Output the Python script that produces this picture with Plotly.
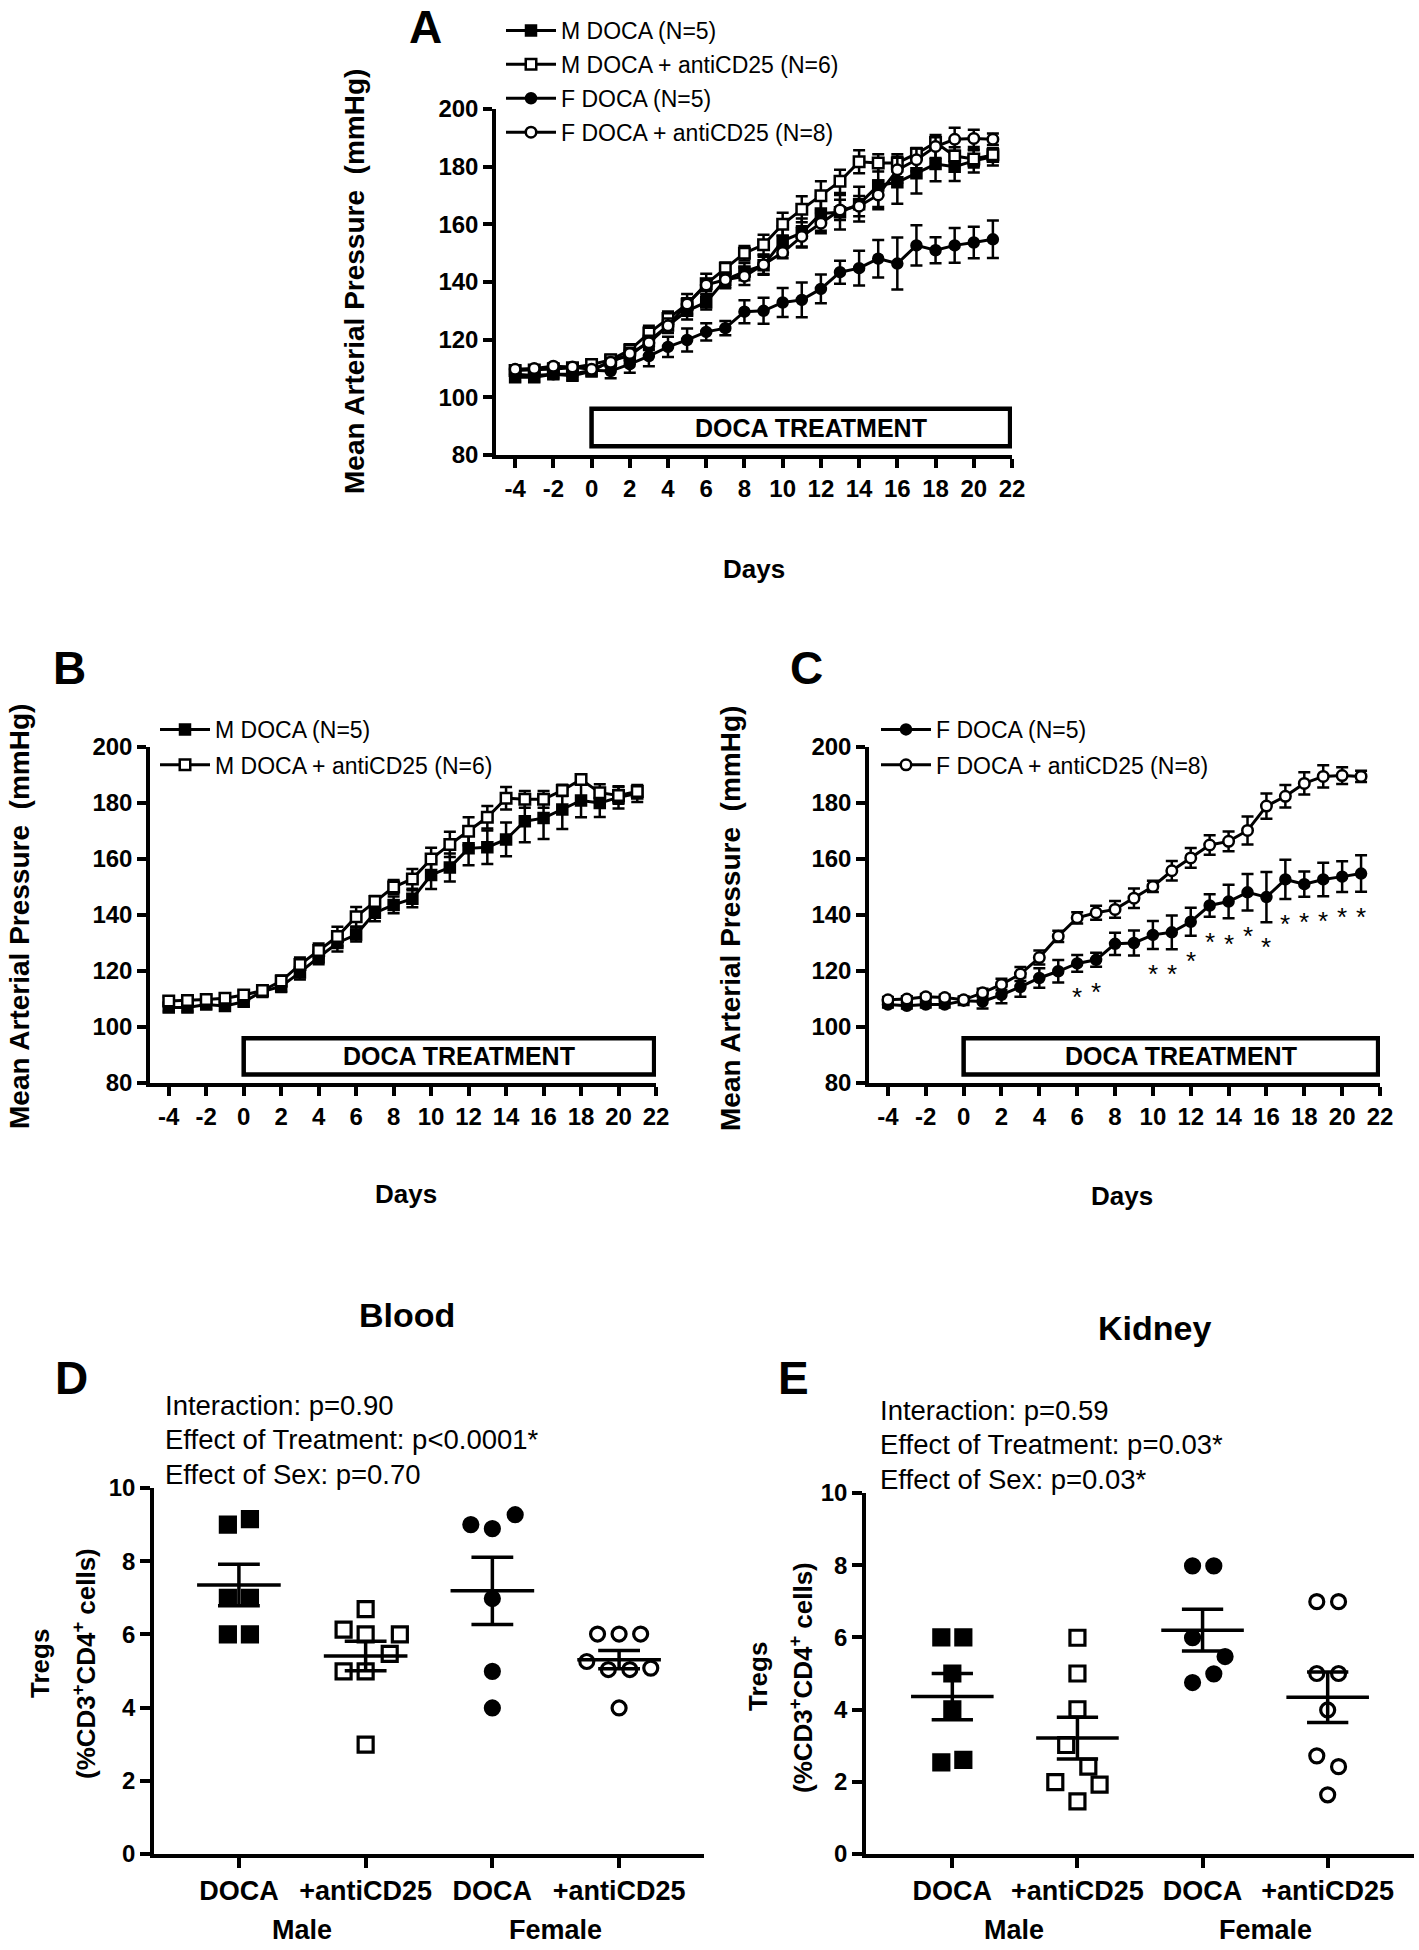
import plotly.graph_objects as go

W, H = 1419, 1950
FONT = "Liberation Sans, Arial, sans-serif"

# ---------------- data: blood pressure time courses ----------------
days = list(range(-4, 22))
x_ticks = list(range(-4, 23, 2))
x_ticktext = [str(v) for v in x_ticks]
y_ticks_map = list(range(80, 201, 20))

m_doca = [107, 107, 108, 107.5, 109, 112.7, 114.5, 119.5, 124.9, 130, 133, 140.8, 143.6,
          145.8, 154.3, 157, 163.8, 164.2, 167, 173.5, 174.6, 177.7, 180.9, 180, 182, 183.4]
m_doca_err = [1.5, 1.5, 1.5, 1.5, 1.5, 2, 2, 2.5, 2.5, 3, 2.5, 3, 3, 3, 5, 5, 6, 6, 6, 7.5,
              7.5, 7, 6, 5, 4, 3]
m_anti = [109.3, 109.5, 109.8, 110.3, 111.4, 113, 116.4, 122.3, 127.3, 132.3, 139.4, 144.8,
          150, 152.9, 160, 165.2, 169.9, 174.9, 181.7, 181.3, 181.3, 184.5, 188.4, 183.7,
          182.7, 184.1]
m_anti_err = [1.5, 1.5, 1.5, 1.5, 1.5, 1.5, 2, 2.5, 2.5, 3.5, 3.5, 2, 2.5, 3.5, 4, 4.5, 5, 4,
              4, 3, 3, 2, 1.5, 3, 3, 2]
f_doca = [108, 107.6, 108, 108, 109.4, 109.1, 111.5, 114.3, 117.5, 119.9, 122.7, 124, 129.7,
          130, 132.9, 133.8, 137.6, 143.4, 144.8, 148.1, 146.4, 152.7, 151, 152.7, 153.7, 154.8]
f_doca_err = [1, 1, 1, 1, 1.5, 2.5, 3, 3.5, 3.5, 4, 3, 2.5, 4, 4.5, 5, 6, 5, 4, 6, 6.5, 9, 7,
              4.5, 6, 5.5, 6.5]
f_anti = [109.7, 110, 110.8, 110.5, 109.7, 112.2, 115.2, 118.9, 124.8, 132.4, 139, 140.8, 142,
          146, 150.2, 155.8, 160.4, 165, 166.3, 170.2, 178.9, 182.4, 187, 189.5, 189.8, 189.5]
f_anti_err = [1, 1, 1, 1, 1, 1.5, 2, 2.5, 2.5, 2, 2, 2.5, 3, 3.5, 2, 3.5, 3.5, 3.5, 3.5, 5,
              4.5, 4, 4, 4, 3, 2]
star_days = [6, 7, 10, 11, 12, 13, 14, 15, 16, 17, 18, 19, 20, 21]

series_names = ["M DOCA (N=5)", "M DOCA + antiCD25 (N=6)", "F DOCA (N=5)",
                "F DOCA + antiCD25 (N=8)"]

# ---------------- data: Tregs scatter ----------------
categories = ["DOCA", "+antiCD25", "DOCA", "+antiCD25"]
sex_labels = ["Male", "Female"]

blood_m_doca = [9.0, 9.15, 7.0, 7.0, 6.0, 6.0]
blood_m_anti = [6.69, 6.13, 6.0, 6.0, 5.47, 4.99, 4.99, 2.99]
blood_f_doca = [9.0, 8.89, 9.27, 6.98, 4.99, 3.99]
blood_f_anti = [6.01, 6.01, 6.01, 5.26, 5.04, 5.04, 5.08, 3.99]
blood_mean = [7.35, 5.41, 7.19, 5.31]
blood_sem = [0.57, 0.40, 0.92, 0.25]

kid_m_doca = [6.0, 6.0, 5.0, 4.01, 2.54, 2.61]
kid_m_anti = [5.99, 5.0, 4.01, 3.02, 2.42, 1.99, 1.92, 1.46]
kid_f_doca = [7.98, 7.98, 5.99, 5.47, 4.99, 4.75]
kid_f_anti = [6.99, 6.99, 5.0, 5.0, 3.99, 2.72, 2.42, 1.64]
kid_mean = [4.36, 3.21, 6.2, 4.34]
kid_sem = [0.64, 0.58, 0.58, 0.70]

blood_stats = ["Interaction: p=0.90", "Effect of Treatment: p<0.0001*", "Effect of Sex: p=0.70"]
kid_stats = ["Interaction: p=0.59", "Effect of Treatment: p=0.03*", "Effect of Sex: p=0.03*"]

# horizontal scatter placement of the dots (category units)
jit_blood_m_doca = [-0.087, 0.087, -0.087, 0.087, -0.087, 0.087]
jit_blood_m_anti = [0, -0.174, 0, 0.27, 0.19, -0.174, 0, 0]
jit_blood_f_doca = [-0.17, 0, 0.18, 0, 0, 0]
jit_blood_f_anti = [-0.17, 0, 0.17, -0.255, -0.085, 0.085, 0.25, 0]
jit_kid_m_doca = [-0.088, 0.088, 0, 0, -0.088, 0.088]
jit_kid_m_anti = [0, 0, 0, -0.09, 0.087, -0.177, 0.177, 0]
jit_kid_f_doca = [-0.08, 0.09, -0.08, 0.18, 0.09, -0.08]
jit_kid_f_anti = [-0.087, 0.087, -0.087, 0.087, 0, -0.087, 0.087, 0]


def px(x, y):
    return x / W, 1 - y / H


def xdom(a, b):
    return [a / W, b / W]


def ydom(top, bottom):
    return [1 - bottom / H, 1 - top / H]


fig = go.Figure()

styles = [
    dict(symbol="square", color="black", line=dict(color="black", width=2)),
    dict(symbol="square", color="white", line=dict(color="black", width=2.5)),
    dict(symbol="circle", color="black", line=dict(color="black", width=2)),
    dict(symbol="circle", color="white", line=dict(color="black", width=2.5)),
]
all_series = [(m_doca, m_doca_err), (m_anti, m_anti_err), (f_doca, f_doca_err), (f_anti, f_anti_err)]

panels = [("x", "y", "legend", [0, 1, 2, 3]),
          ("x2", "y2", "legend2", [0, 1]),
          ("x3", "y3", "legend3", [2, 3])]

for xa, ya, lg, idxs in panels:
    for i in idxs:
        vals, errs = all_series[i]
        st = styles[i]
        fig.add_trace(go.Scatter(
            x=days, y=vals, xaxis=xa, yaxis=ya, mode="lines+markers",
            name=series_names[i], legend=lg, legendgroup=f"{lg}_{i}",
            line=dict(color="black", width=3),
            marker=dict(symbol=st["symbol"], size=10.5, color=st["color"], line=st["line"]),
            error_y=dict(type="data", array=errs, visible=True, color="black",
                         thickness=2.5, width=6),
            cliponaxis=False,
        ))


def dot_trace(vals, jit, g, xa, ya, symbol, fill):
    return go.Scatter(
        x=[g + j for j in jit], y=vals, xaxis=xa, yaxis=ya, mode="markers",
        showlegend=False, cliponaxis=False,
        marker=dict(symbol=symbol, size=15 if symbol == "square" else 14, color=fill,
                    line=dict(color="black", width=3.2)),
    )


def mean_trace(means, sems, xa, ya):
    xs, ys = [], []
    for g, (m, s) in enumerate(zip(means, sems)):
        xs += [g - 0.33, g + 0.33, None, g, g, None,
               g - 0.165, g + 0.165, None, g - 0.165, g + 0.165, None]
        ys += [m, m, None, m - s, m + s, None, m + s, m + s, None, m - s, m - s, None]
    return go.Scatter(x=xs, y=ys, xaxis=xa, yaxis=ya, mode="lines", showlegend=False,
                      line=dict(color="black", width=3.5), cliponaxis=False)


for xa, ya, groups, means, sems in [
    ("x4", "y4",
     [(blood_m_doca, jit_blood_m_doca), (blood_m_anti, jit_blood_m_anti),
      (blood_f_doca, jit_blood_f_doca), (blood_f_anti, jit_blood_f_anti)],
     blood_mean, blood_sem),
    ("x5", "y5",
     [(kid_m_doca, jit_kid_m_doca), (kid_m_anti, jit_kid_m_anti),
      (kid_f_doca, jit_kid_f_doca), (kid_f_anti, jit_kid_f_anti)],
     kid_mean, kid_sem),
]:
    sym = [("square", "black"), ("square", "white"), ("circle", "black"), ("circle", "white")]
    for g, (vals, jit) in enumerate(groups):
        fig.add_trace(dot_trace(vals, jit, g, xa, ya, sym[g][0], sym[g][1]))
    fig.add_trace(mean_trace(means, sems, xa, ya))

tickfont = dict(family=FONT, size=24, color="black", weight="bold")
axis_common = dict(showline=True, linecolor="black", linewidth=3.5, ticks="outside",
                   ticklen=9, tickwidth=3.5, tickcolor="black", showgrid=False,
                   zeroline=False, tickfont=tickfont, fixedrange=True)

line_x = dict(axis_common, range=[-5, 22], tickmode="array", tickvals=x_ticks,
              ticktext=x_ticktext)
line_y = dict(axis_common, range=[80, 200], tickmode="array", tickvals=y_ticks_map)

fig.update_layout(
    width=W, height=H,
    margin=dict(l=0, r=0, t=0, b=0, autoexpand=False),
    paper_bgcolor="white", plot_bgcolor="white",
    font=dict(family=FONT, color="black"),
    xaxis=dict(line_x, domain=xdom(496, 1012), anchor="y"),
    yaxis=dict(line_y, domain=ydom(109, 455), anchor="x"),
    xaxis2=dict(line_x, domain=xdom(150, 656), anchor="y2"),
    yaxis2=dict(line_y, domain=ydom(747, 1083), anchor="x2"),
    xaxis3=dict(line_x, domain=xdom(869, 1380), anchor="y3"),
    yaxis3=dict(line_y, domain=ydom(747, 1083), anchor="x3"),
    xaxis4=dict(axis_common, domain=xdom(154, 704), anchor="y4", range=[-0.67, 3.67],
                tickmode="array", tickvals=[0, 1, 2, 3], ticktext=categories, ticklen=10,
                tickfont=dict(tickfont, size=27)),
    yaxis4=dict(axis_common, domain=ydom(1488, 1854), anchor="x4", range=[0, 10],
                tickmode="array", tickvals=[0, 2, 4, 6, 8, 10], ticklen=10),
    xaxis5=dict(axis_common, domain=xdom(866, 1414), anchor="y5", range=[-0.69, 3.69],
                tickmode="array", tickvals=[0, 1, 2, 3], ticktext=categories, ticklen=10,
                tickfont=dict(tickfont, size=27)),
    yaxis5=dict(axis_common, domain=ydom(1493, 1854), anchor="x5", range=[0, 10],
                tickmode="array", tickvals=[0, 2, 4, 6, 8, 10], ticklen=10),
    showlegend=True,
)

legend_common = dict(xanchor="left", yanchor="top", bgcolor="rgba(0,0,0,0)",
                     font=dict(family=FONT, size=23, color="black"), itemwidth=50,
                     borderwidth=0, itemclick=False, itemdoubleclick=False)
lx, ly = px(501, 9)
fig.update_layout(legend=dict(legend_common, x=lx, y=ly, tracegroupgap=1))
lx, ly = px(155, 708)
fig.update_layout(legend2=dict(legend_common, x=lx, y=ly, tracegroupgap=2.5))
lx, ly = px(876, 708)
fig.update_layout(legend3=dict(legend_common, x=lx, y=ly, tracegroupgap=2.5))

# DOCA treatment boxes
shapes = []
annotations = []
for xa, ya in [("x", "y"), ("x2", "y2"), ("x3", "y3")]:
    shapes.append(dict(type="rect", xref=xa, yref=ya, x0=0, x1=21.9, y0=83, y1=96,
                       line=dict(color="black", width=4.5), fillcolor="white", layer="above"))
    annotations.append(dict(xref=xa, yref=ya, x=11.5, y=89.5, text="<b>DOCA TREATMENT</b>",
                            showarrow=False, font=dict(family=FONT, size=25, color="black")))

# significance stars in panel C (placed just below each F DOCA error bar)
for d in star_days:
    k = days.index(d)
    annotations.append(dict(xref="x3", yref="y3", x=d, y=f_doca[k] - f_doca_err[k] - 9,
                            text="*", showarrow=False,
                            font=dict(family=FONT, size=26, color="black")))


def ann(x, y, text, size, bold=True, angle=0, xanchor="center"):
    ax, ay = px(x, y)
    annotations.append(dict(xref="paper", yref="paper", x=ax, y=ay, text=text,
                            showarrow=False, xanchor=xanchor, yanchor="middle",
                            textangle=angle,
                            font=dict(family=FONT, size=size, color="black",
                                      weight="bold" if bold else "normal")))


# panel letters
ann(425, 27, "A", 46)
ann(69, 668, "B", 46)
ann(806, 668, "C", 46)
ann(71, 1378, "D", 46)
ann(793, 1378, "E", 46)

ytitle = "Mean Arterial Pressure\u00a0 (mmHg)"
ann(355, 282, ytitle, 28, angle=-90)
ann(20, 917, ytitle, 28, angle=-90)
ann(731, 919, ytitle, 28, angle=-90)
ann(754, 569, "Days", 26)
ann(406, 1194, "Days", 26)
ann(1122, 1196, "Days", 26)

ann(407, 1315, "Blood", 34)
ann(1154, 1328, "Kidney", 34)

for i, t in enumerate(blood_stats):
    ann(163, 1405 + 34.5 * i, t, 27.5, bold=False, xanchor="left")
for i, t in enumerate(kid_stats):
    ann(878, 1410 + 34.5 * i, t, 27.5, bold=False, xanchor="left")

cd_title = "(%CD3<sup>+</sup>CD4<sup>+</sup> cells)"
ann(40, 1664, "Tregs", 26, angle=-90)
ann(84, 1664, cd_title, 26, angle=-90)
ann(758, 1677, "Tregs", 26, angle=-90)
ann(801, 1677, cd_title, 26, angle=-90)

ann(302, 1930, sex_labels[0], 27)
ann(555, 1930, sex_labels[1], 27)
ann(1014, 1930, sex_labels[0], 27)
ann(1265, 1930, sex_labels[1], 27)

fig.update_layout(shapes=shapes, annotations=annotations)

fig.write_html("out.html",
               config={"displayModeBar": False, "staticPlot": False},
               post_script="document.body.style.margin='0px';document.body.style.padding='0px';")
